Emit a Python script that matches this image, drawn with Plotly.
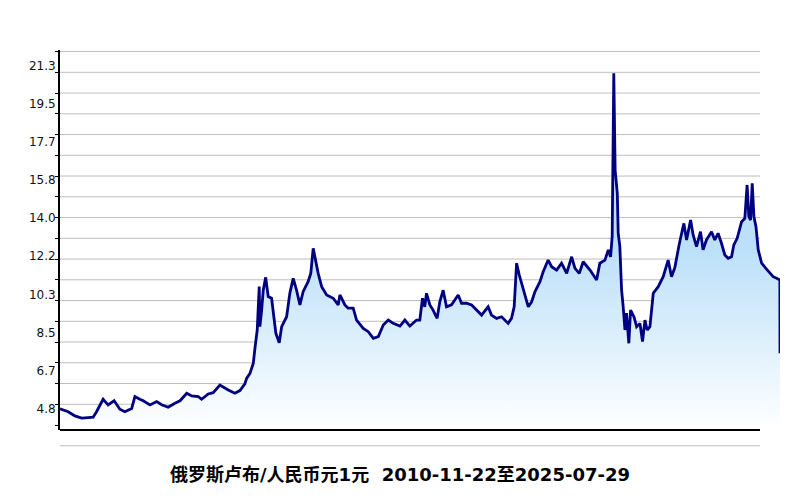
import plotly.graph_objects as go

# RUB per 1 CNY
dates = [
    "2010-11-22", "2011-01-22", "2011-03-13", "2011-05-02", "2011-06-20", "2011-07-27",
    "2011-08-21", "2011-09-27", "2011-10-09", "2011-11-15", "2011-12-30", "2012-02-11",
    "2012-03-19", "2012-05-09", "2012-06-02", "2012-07-09", "2012-08-03", "2012-09-22",
    "2012-11-11", "2012-12-18", "2013-02-05", "2013-03-27", "2013-05-04", "2013-06-23",
    "2013-07-30", "2013-09-17", "2013-10-12", "2013-11-30", "2014-01-06", "2014-02-25",
    "2014-04-04", "2014-04-28", "2014-06-17", "2014-07-24", "2014-08-30", "2014-09-12",
    "2014-10-07", "2014-11-01", "2014-11-13", "2014-11-30", "2014-12-15", "2014-12-20",
    "2015-01-02", "2015-01-14", "2015-02-01", "2015-02-20", "2015-03-17", "2015-03-29",
    "2015-04-18", "2015-05-13", "2015-05-31", "2015-07-07", "2015-07-31", "2015-08-25",
    "2015-09-19", "2015-10-14", "2015-11-07", "2015-12-14", "2016-01-03", "2016-01-21",
    "2016-02-10", "2016-02-27", "2016-03-24", "2016-04-30", "2016-06-18", "2016-07-25",
    "2016-08-07", "2016-09-13", "2016-10-07", "2016-11-14", "2016-12-09", "2017-01-28",
    "2017-03-06", "2017-04-13", "2017-05-20", "2017-06-26", "2017-08-02", "2017-09-08",
    "2017-10-28", "2017-12-04", "2018-01-10", "2018-03-01", "2018-03-25", "2018-04-14",
    "2018-05-01", "2018-05-14", "2018-06-08", "2018-07-02", "2018-08-01", "2018-08-21",
    "2018-09-15", "2018-10-10", "2018-11-16", "2019-01-05", "2019-01-30", "2019-03-08",
    "2019-04-15", "2019-05-22", "2019-06-28", "2019-08-16", "2019-09-10", "2019-10-18",
    "2019-11-24", "2020-01-12", "2020-02-06", "2020-02-26", "2020-03-15", "2020-04-04",
    "2020-04-22", "2020-05-16", "2020-06-10", "2020-07-05", "2020-07-30", "2020-09-05",
    "2020-09-29", "2020-11-05", "2020-12-01", "2021-01-07", "2021-02-13", "2021-03-23",
    "2021-04-29", "2021-05-24", "2021-06-25", "2021-07-24", "2021-09-13", "2021-11-01",
    "2021-11-25", "2022-01-02", "2022-01-27", "2022-02-13", "2022-02-25", "2022-03-09",
    "2022-03-19", "2022-04-04", "2022-04-11", "2022-04-23", "2022-05-06", "2022-05-18",
    "2022-05-31", "2022-06-12", "2022-06-29", "2022-07-12", "2022-08-06", "2022-08-26",
    "2022-09-20", "2022-10-09", "2022-10-27", "2022-11-13", "2022-12-03", "2022-12-28",
    "2023-02-03", "2023-03-12", "2023-04-18", "2023-05-13", "2023-06-07", "2023-07-09",
    "2023-08-13", "2023-09-02", "2023-10-02", "2023-10-21", "2023-11-15", "2023-12-15",
    "2024-01-03", "2024-01-28", "2024-03-06", "2024-03-30", "2024-04-24", "2024-05-19",
    "2024-06-13", "2024-07-08", "2024-08-02", "2024-08-19", "2024-09-13", "2024-10-16",
    "2024-11-09", "2024-11-26", "2024-12-09", "2024-12-22", "2025-01-03", "2025-01-16",
    "2025-01-31", "2025-02-17", "2025-03-14", "2025-04-15", "2025-05-15", "2025-06-08",
    "2025-07-04", "2025-07-28", "2025-07-29",
]
rates = [
    4.78, 4.64, 4.44, 4.33, 4.36, 4.38,
    4.64, 5.05, 5.24, 4.97, 5.17, 4.76,
    4.64, 4.80, 5.37, 5.24, 5.17, 4.97,
    5.13, 4.98, 4.86, 5.05, 5.17, 5.53,
    5.40, 5.37, 5.24, 5.50, 5.56, 5.93,
    5.77, 5.69, 5.53, 5.66, 5.98, 6.25,
    6.49, 6.98, 7.70, 8.58, 10.67, 8.74,
    9.54, 10.50, 11.12, 10.19, 10.11, 9.54,
    8.42, 7.97, 8.74, 9.22, 10.35, 11.07,
    10.50, 9.79, 10.43, 10.91, 11.31, 12.52,
    11.80, 11.31, 10.67, 10.27, 10.11, 9.79,
    10.27, 9.79, 9.63, 9.63, 9.06, 8.66,
    8.50, 8.18, 8.26, 8.82, 9.06, 8.90,
    8.77, 9.06, 8.77, 9.06, 9.06, 10.11,
    9.70, 10.35, 9.79, 9.54, 9.14, 9.94,
    10.50, 9.70, 9.79, 10.27, 9.87, 9.87,
    9.79, 9.54, 9.30, 9.70, 9.30, 9.14,
    9.22, 8.90, 9.14, 9.70, 11.80, 11.23,
    10.83, 10.35, 9.70, 9.94, 10.43, 10.91,
    11.39, 11.95, 11.63, 11.47, 11.80, 11.31,
    12.11, 11.55, 11.31, 11.87, 11.47, 10.99,
    11.80, 11.95, 12.44, 12.11, 13.08, 20.95,
    16.29, 15.17, 13.24, 12.60, 10.51, 9.70,
    8.58, 9.39, 7.94, 9.54, 9.22, 8.74,
    8.90, 8.02, 9.06, 8.58, 8.74, 10.35,
    10.67, 11.15, 11.95, 11.15, 11.60, 12.70,
    13.72, 12.92, 13.88, 13.16, 12.60, 13.32,
    12.44, 12.92, 13.32, 12.92, 13.24, 12.76,
    12.20, 12.04, 12.11, 12.68, 13.00, 13.80,
    13.96, 15.57, 14.04, 13.88, 15.65, 14.04,
    13.56, 12.44, 11.80, 11.55, 11.31, 11.15,
    11.07, 10.99, 7.46,
]

tick_labels = ["4.8", "6.7", "8.5", "10.3", "12.2", "14.0", "15.8", "17.7", "19.5", "21.3"]
tick_values = [4.8, 6.633, 8.467, 10.3, 12.133, 13.967, 15.8, 17.633, 19.467, 21.3]
grid_values = list(range(4, 23))

title_text = "俄罗斯卢布/人民币元1元  2010-11-22至2025-07-29"

Y_MIN, Y_MAX = 3.761, 22.075

fig = go.Figure()
fig.add_trace(go.Scatter(
    x=dates, y=rates, mode="lines",
    line=dict(color="#000080", width=2.8),
    fill="tozeroy",
    fillgradient=dict(type="vertical",
                      colorscale=[[0, "rgb(255,255,255)"], [1, "rgb(188,224,249)"]],
                      start=Y_MIN, stop=12.5),
    hoverinfo="x+y", showlegend=False,
))

GRID_X1 = 700 / 720
shapes = []
for g in grid_values:
    shapes.append(dict(type="line", xref="paper", yref="y", x0=0, x1=GRID_X1, y0=g, y1=g,
                       line=dict(color="#bdbdbd", width=1), layer="below"))
# gridline below the axis (value 3)
y3 = (3 - Y_MIN) / (Y_MAX - Y_MIN)
shapes.append(dict(type="line", xref="paper", yref="paper", x0=0, x1=GRID_X1, y0=y3, y1=y3,
                   line=dict(color="#bdbdbd", width=1)))
# bottom axis line
shapes.append(dict(type="line", xref="paper", yref="paper", x0=0, x1=GRID_X1, y0=0, y1=0,
                   line=dict(color="black", width=2)))

fig.update_layout(
    width=800, height=500,
    margin=dict(l=60, r=20, t=50, b=70),
    paper_bgcolor="white", plot_bgcolor="white",
    shapes=shapes,
    xaxis=dict(range=[dates[0], dates[-1]], showgrid=False, showticklabels=False,
               zeroline=False, showline=False, ticks=""),
    yaxis=dict(range=[Y_MIN, Y_MAX], tickmode="array", tickvals=tick_values,
               ticktext=tick_labels, showgrid=False, zeroline=False,
               showline=True, linecolor="black", linewidth=2, ticks="",
               tickfont=dict(family="DejaVu Sans", size=12, color="#111111"),
               minor=dict(tickmode="array", tickvals=grid_values, ticks="outside",
                          ticklen=3, tickcolor="black", tickwidth=1, showgrid=False)),
    title=dict(text="<b>" + title_text + "</b>", x=0.5, xref="container", xanchor="center",
               y=0.05, yref="container", yanchor="middle",
               font=dict(family="DejaVu Sans, Noto Sans CJK SC", size=18, color="black")),
)

fig.write_html("out.html", config={"displayModeBar": False},
               post_script="document.body.style.margin='0';")
